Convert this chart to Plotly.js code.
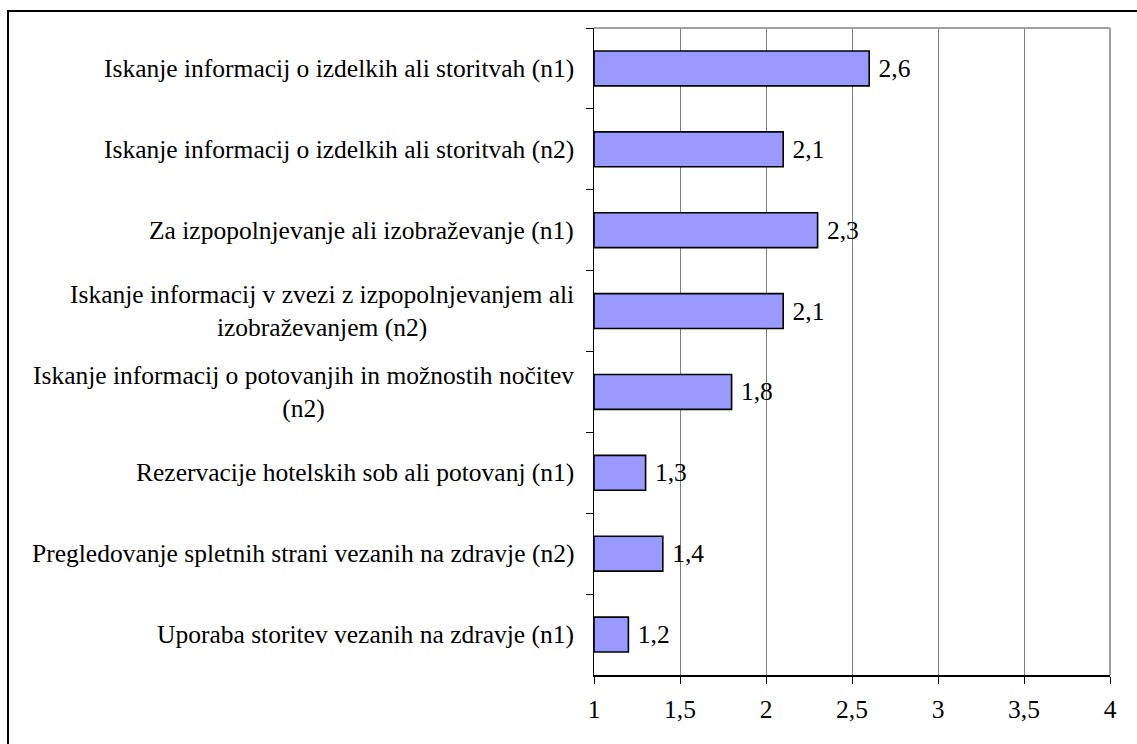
<!DOCTYPE html>
<html>
<head>
<meta charset="utf-8">
<script src="https://cdn.plot.ly/plotly-3.0.1.min.js"></script>
<style>
    html, body { margin: 0; padding: 0; background: #fff; overflow: hidden; }
    #frame {
        position: absolute; left: 7px; top: 10px; width: 1200px; height: 800px;
        border-left: 2px solid #000; border-top: 2px solid #000;
    }
    #graph { position: absolute; left: 0; top: 0; width: 1137px; height: 744px; }
</style>
</head>
<body>
<div id="frame"></div>
<div id="graph"></div>
<script>
// podatki
const categories = [
    'Iskanje informacij o izdelkih ali storitvah (n1)',
    'Iskanje informacij o izdelkih ali storitvah (n2)',
    'Za izpopolnjevanje ali izobraževanje (n1)',
    'Iskanje informacij v zvezi z izpopolnjevanjem ali<br>izobraževanjem (n2)',
    'Iskanje informacij o potovanjih in možnostih nočitev<br>(n2)',
    'Rezervacije hotelskih sob ali potovanj (n1)',
    'Pregledovanje spletnih strani vezanih na zdravje (n2)',
    'Uporaba storitev vezanih na zdravje (n1)'
];
const values = [2.6, 2.1, 2.3, 2.1, 1.8, 1.3, 1.4, 1.2];
const axisStart = 1;
const tickValues = [1, 1.5, 2, 2.5, 3, 3.5, 4];

const font_family = 'Liberation Serif';
const font_size = 25.5;

const trace = {
    type: 'bar',
    orientation: 'h',
    y: categories,
    base: axisStart,
    x: values.map(v => v - axisStart),
    text: values.map(v => ' ' + v.toFixed(1).replace('.', ',')),
    textposition: 'outside',
    cliponaxis: false,
    textfont: {family: font_family, size: font_size, color: '#000'},
    marker: {color: '#9999ff', line: {color: '#000', width: 1.6}},
    hoverinfo: 'none'
};

// oznake kategorij kot anotacije, da je druga vrstica na sredini
const labels = categories.map(c => ({
    text: c,
    x: 0, xref: 'paper', xanchor: 'right', xshift: -18,
    y: c, yref: 'y', yanchor: 'middle',
    align: 'center',
    showarrow: false,
    font: {family: font_family, size: font_size, color: '#000'}
}));

const layout = {
    width: 1137,
    height: 744,
    margin: {l: 594, r: 27, t: 28, b: 69},
    paper_bgcolor: 'rgba(0,0,0,0)',
    plot_bgcolor: '#fff',
    showlegend: false,
    bargap: 0.57,
    font: {family: font_family, size: font_size, color: '#000'},
    xaxis: {
        range: [1, 4],
        tickvals: tickValues,
        ticktext: tickValues.map(v => String(v).replace('.', ',')),
        showgrid: true,
        gridcolor: '#7f7f7f',
        gridwidth: 1,
        zeroline: false,
        showline: true,
        linecolor: '#000',
        linewidth: 1.5,
        ticks: 'outside',
        ticklen: 7,
        tickcolor: '#000',
        ticklabelstandoff: 4,
        tickfont: {family: font_family, size: font_size, color: '#000'}
    },
    yaxis: {
        type: 'category',
        autorange: 'reversed',
        showticklabels: false,
        showgrid: false,
        zeroline: false,
        showline: true,
        linecolor: '#000',
        linewidth: 1.5,
        ticks: 'outside',
        tickson: 'boundaries',
        ticklen: 7,
        tickcolor: '#000'
    },
    shapes: [
        {type: 'line', xref: 'paper', yref: 'paper', x0: 0, x1: 1, y0: 1, y1: 1,
         line: {color: '#a0a0a0', width: 2}},
        {type: 'line', xref: 'paper', yref: 'paper', x0: 1, x1: 1, y0: 0, y1: 1,
         line: {color: '#a0a0a0', width: 2}}
    ],
    annotations: labels
};

Plotly.newPlot('graph', [trace], layout, {displayModeBar: false, staticPlot: true});
</script>
</body>
</html>
